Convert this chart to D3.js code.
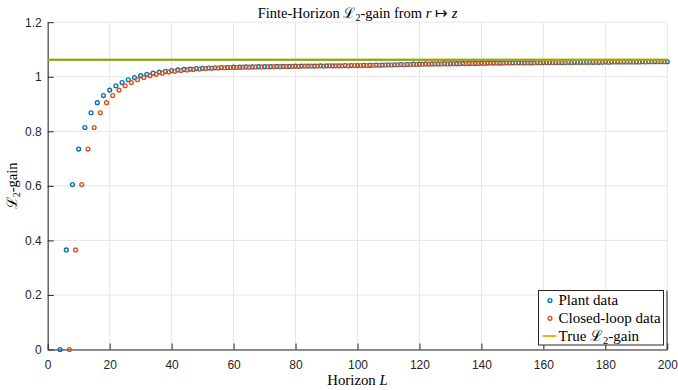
<!DOCTYPE html>
<html><head><meta charset="utf-8">
<script src="https://cdn.jsdelivr.net/npm/d3@7"></script>
<style>body{margin:0;background:#fff}svg{display:block}</style>
</head><body><svg id="c" width="678" height="390"></svg>
<script>
// ---- data ----
const plantHorizon = d3.range(4, 201, 2);   // L = 4,6,...,200
const plantGain = [0,0.365,0.605,0.735,0.814,0.868,0.905,0.931,0.951,0.967,
0.979,0.989,0.997,1.004,1.009,1.013,1.017,1.020,1.023,1.025,
1.027,1.028,1.030,1.031,1.032,1.033,1.034,1.034,1.035,1.035,
1.036,1.036,1.037,1.037,1.037,1.038,1.038,1.038,1.039,1.039,
1.039,1.039,1.040,1.040,1.040,1.040,1.041,1.041,1.041,1.042,
1.042,1.043,1.043,1.044,1.044,1.045,1.045,1.046,1.046,1.047,
1.047,1.047,1.048,1.048,1.048,1.049,1.049,1.049,1.050,1.050,
1.050,1.050,1.051,1.051,1.051,1.051,1.051,1.052,1.052,1.052,
1.052,1.052,1.053,1.053,1.053,1.053,1.053,1.053,1.054,1.054,
1.054,1.054,1.054,1.054,1.055,1.055,1.055,1.055,1.055];
const closedHorizon = d3.range(7, 200, 2);  // L = 7,9,...,199
const closedGain = [0,0.365,0.605,0.735,0.814,0.868,0.905,0.931,0.951,0.967,
0.979,0.989,0.997,1.004,1.009,1.013,1.017,1.020,1.023,1.025,
1.027,1.028,1.030,1.031,1.032,1.033,1.034,1.034,1.035,1.035,
1.036,1.036,1.037,1.037,1.037,1.038,1.038,1.038,1.039,1.039,
1.039,1.039,1.040,1.040,1.040,1.040,1.041,1.041,1.041,1.042,
1.042,1.043,1.043,1.044,1.044,1.045,1.045,1.046,1.046,1.047,
1.047,1.047,1.048,1.048,1.048,1.049,1.049,1.049,1.050,1.050,
1.050,1.050,1.051,1.051,1.051,1.051,1.051,1.052,1.052,1.052,
1.052,1.052,1.053,1.053,1.053,1.053,1.053,1.053,1.054,1.054,
1.054,1.054,1.054,1.054,1.055,1.055,1.055];
const trueGain = 1.062;
const xTicks = [0,20,40,60,80,100,120,140,160,180,200];
const yTicks = [0,0.2,0.4,0.6,0.8,1,1.2];
const legendLabels = ["Plant data","Closed-loop data","True"];

// ---- layout ----
const svg = d3.select("#c");
const L = 47.7, R = 667.3, T = 22.2, B = 349.5;
const x = d3.scaleLinear().domain([0,200]).range([L,R]);
const y = d3.scaleLinear().domain([0,1.2]).range([B,T]);
const axisCol = "#262626", gridCol = "#e6e6e6";
const blue = "#0072BD", orange = "#D95319", yellow = "#EDB120", green = "#77AC30";
const serif = "'Liberation Serif', 'Times New Roman', serif";
const sans = "'Liberation Sans', Arial, Helvetica, sans-serif";

// grid
svg.append("g").selectAll("line").data(xTicks).join("line")
  .attr("x1", d=>x(d)).attr("x2", d=>x(d)).attr("y1", T).attr("y2", B)
  .attr("stroke", gridCol).attr("stroke-width", 1);
svg.append("g").selectAll("line").data(yTicks).join("line")
  .attr("x1", L).attr("x2", R).attr("y1", d=>y(d)).attr("y2", d=>y(d))
  .attr("stroke", gridCol).attr("stroke-width", 1);

// axes
const xAxis = d3.axisBottom(x).tickValues(xTicks).tickSizeInner(-6).tickSizeOuter(0).tickPadding(11).tickFormat(d3.format("d"));
const yAxis = d3.axisLeft(y).tickValues(yTicks).tickSizeInner(-6).tickSizeOuter(0).tickPadding(11).tickFormat(d=>d3.format("~g")(d));
const gx = svg.append("g").attr("transform",`translate(0,${B})`).call(xAxis);
const gy = svg.append("g").attr("transform",`translate(${L},0)`).call(yAxis);
[gx,gy].forEach(g=>{
  g.select(".domain").attr("stroke", axisCol).attr("stroke-width",1);
  g.selectAll(".tick line").attr("stroke", axisCol).attr("stroke-width",1);
  g.selectAll(".tick text").attr("fill", axisCol).style("font-family", sans).style("font-size","12px");
});
gy.selectAll(".tick text").attr("dx", "5");

// series
function scatter(xs, ys, col){
  svg.append("g").selectAll("circle").data(ys).join("circle")
    .attr("cx", (d,i)=>x(xs[i])).attr("cy", d=>y(d)).attr("r", 1.9)
    .attr("fill","none").attr("stroke", col).attr("stroke-width", 1.4);
}
scatter(plantHorizon, plantGain, blue);
scatter(closedHorizon, closedGain, orange);

// true gain lines
svg.append("line").attr("x1",x(0)).attr("x2",x(200)).attr("y1",y(trueGain)).attr("y2",y(trueGain))
  .attr("stroke",yellow).attr("stroke-width",2.2);
svg.append("line").attr("x1",x(0)).attr("x2",x(200)).attr("y1",y(trueGain)).attr("y2",y(trueGain))
  .attr("stroke",green).attr("stroke-width",2);

// title
const title = svg.append("text").attr("x",(L+R)/2).attr("y",18).attr("text-anchor","middle")
  .style("font-family",serif).style("font-size","14.5px").attr("fill","#000");
title.append("tspan").text("Finte-Horizon ");
title.append("tspan").text("ℒ");
title.append("tspan").attr("dy",3).style("font-size","10px").text("2");
title.append("tspan").attr("dy",-3).text("-gain from ");
title.append("tspan").style("font-style","italic").text("r");
title.append("tspan").text(" ↦ ");
title.append("tspan").style("font-style","italic").text("z");

// x label
const xl = svg.append("text").attr("x",(L+R)/2).attr("y",385).attr("text-anchor","middle")
  .style("font-family",serif).style("font-size","14.8px").attr("fill","#000");
xl.append("tspan").text("Horizon ");
xl.append("tspan").style("font-style","italic").text("L");

// y label
const yl = svg.append("text").attr("transform",`translate(17,${(T+B)/2}) rotate(-90)`).attr("text-anchor","middle")
  .style("font-family",serif).style("font-size","14.5px").attr("fill","#000");
yl.append("tspan").text("ℒ");
yl.append("tspan").attr("dy",3).style("font-size","10px").text("2");
yl.append("tspan").attr("dy",-3).text("-gain");

// legend
const lg = svg.append("g");
lg.append("rect").attr("x",538.5).attr("y",290.5).attr("width",125).attr("height",54.5)
  .attr("fill","#fff").attr("stroke",axisCol).attr("stroke-width",1);
lg.append("line").attr("x1",667).attr("x2",667).attr("y1",290.5).attr("y2",B).attr("stroke",axisCol).attr("stroke-width",1);
const rowY = [300.5, 318.3, 336];
lg.append("circle").attr("cx",550).attr("cy",rowY[0]).attr("r",1.9).attr("fill","none").attr("stroke",blue).attr("stroke-width",1.4);
lg.append("circle").attr("cx",550).attr("cy",rowY[1]).attr("r",1.9).attr("fill","none").attr("stroke",orange).attr("stroke-width",1.4);
lg.append("line").attr("x1",542.5).attr("x2",556.5).attr("y1",rowY[2]).attr("y2",rowY[2]).attr("stroke",yellow).attr("stroke-width",2);
legendLabels.forEach((t,i)=>{
  const tx = lg.append("text").attr("x",558.5).attr("y",rowY[i]+4.5)
    .style("font-family",serif).style("font-size","15px").attr("fill","#000").text(t);
  if(i===2){
    tx.append("tspan").text(" ℒ");
    tx.append("tspan").attr("dy",3).style("font-size","10.5px").text("2");
    tx.append("tspan").attr("dy",-3).text("-gain");
  }
});
</script></body></html>
